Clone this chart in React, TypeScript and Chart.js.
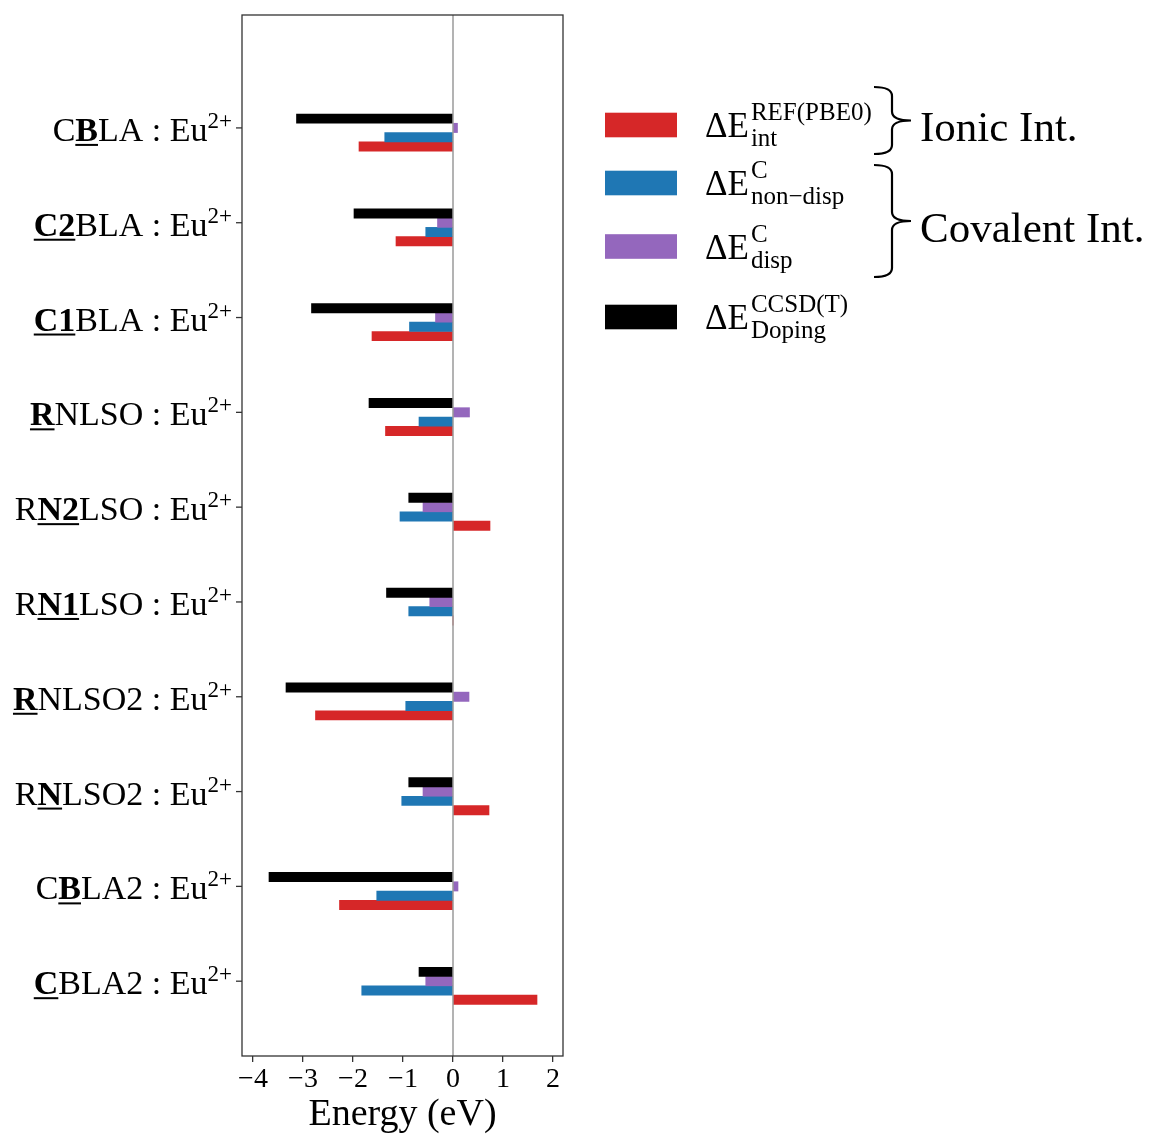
import React, { useEffect, useRef } from "react";
import { Chart, registerables } from "chart.js";

Chart.register(...registerables);

// Host lattices; the doped cation site is wrapped in *...* (drawn bold + underlined)
const hosts = [
  "C*B*LA",
  "*C2*BLA",
  "*C1*BLA",
  "*R*NLSO",
  "R*N2*LSO",
  "R*N1*LSO",
  "*R*NLSO2",
  "R*N*LSO2",
  "C*B*LA2",
  "*C*BLA2",
];
const dopant = "Eu";
const dopantCharge = "2+";

// Energies in eV, one value per host
const dopingCCSDT = [-3.13, -1.98, -2.83, -1.68, -0.885, -1.33, -3.34, -0.885, -3.68, -0.68];
const dispersion = [0.09, -0.31, -0.35, 0.33, -0.6, -0.465, 0.32, -0.6, 0.1, -0.545];
const nonDispersion = [-1.365, -0.545, -0.87, -0.68, -1.06, -0.885, -0.945, -1.025, -1.525, -1.825];
const interactionPBE0 = [-1.88, -1.14, -1.62, -1.35, 0.74, 0, -2.75, 0.72, -2.27, 1.68];

const xTicks = [-4, -3, -2, -1, 0, 1, 2];
const xTitle = "Energy (eV)";

// Legend: ΔE with superscript / subscript
const legendSup = ["REF(PBE0)", "C", "C", "CCSD(T)"];
const legendSub = ["int", "non\u2212disp", "disp", "Doping"];
const groupNames = ["Ionic Int.", "Covalent Int."];

const RED = "#d62728";
const BLUE = "#1f77b4";
const PURPLE = "#9467bd";
const BLACK = "#000000";
const SERIF = '"Liberation Serif", "Times New Roman", serif';

type Run = { text: string; font: string; dy: number; underline?: boolean };

function parseHost(label: string): Run[] {
  const runs: Run[] = [];
  label.split("*").forEach((part, k) => {
    if (!part) return;
    const bold = k % 2 === 1;
    runs.push({ text: part, font: `${bold ? "bold " : ""}34px ${SERIF}`, dy: 0, underline: bold });
  });
  runs.push({ text: " : " + dopant, font: `34px ${SERIF}`, dy: 0 });
  runs.push({ text: dopantCharge, font: `23px ${SERIF}`, dy: -13 });
  return runs;
}

function drawRunsRight(ctx: CanvasRenderingContext2D, runs: Run[], xRight: number, baseline: number) {
  let total = 0;
  const widths = runs.map((r) => {
    ctx.font = r.font;
    const w = ctx.measureText(r.text).width;
    total += w;
    return w;
  });
  let x = xRight - total;
  ctx.textAlign = "left";
  ctx.textBaseline = "alphabetic";
  runs.forEach((r, i) => {
    ctx.font = r.font;
    ctx.fillText(r.text, x, baseline + r.dy);
    if (r.underline) {
      ctx.fillRect(x, baseline + 3, widths[i], 2);
    }
    x += widths[i];
  });
}

function drawBrace(ctx: CanvasRenderingContext2D, y0: number, y1: number) {
  const xL = 874;
  const xM = 892;
  const xT = 911;
  const yT = (y0 + y1) / 2;
  const r = 9;
  ctx.beginPath();
  ctx.moveTo(xL, y0);
  ctx.quadraticCurveTo(xM, y0, xM, y0 + r);
  ctx.lineTo(xM, yT - r);
  ctx.quadraticCurveTo(xM, yT, xT, yT);
  ctx.quadraticCurveTo(xM, yT, xM, yT + r);
  ctx.lineTo(xM, y1 - r);
  ctx.quadraticCurveTo(xM, y1, xL, y1);
  ctx.lineWidth = 2.2;
  ctx.strokeStyle = "#000";
  ctx.stroke();
}

const decorations = {
  id: "decorations",
  afterDatasetsDraw(chart: any) {
    const { ctx, chartArea, scales } = chart;
    const x0 = scales.x.getPixelForValue(0);
    ctx.save();
    ctx.strokeStyle = "#8a8a8a";
    ctx.lineWidth = 1.3;
    ctx.beginPath();
    ctx.moveTo(x0, chartArea.top);
    ctx.lineTo(x0, chartArea.bottom);
    ctx.stroke();
    ctx.restore();
  },
  afterDraw(chart: any) {
    const { ctx, chartArea } = chart;
    ctx.save();
    // axes frame
    ctx.strokeStyle = "#333";
    ctx.lineWidth = 1.3;
    ctx.strokeRect(chartArea.left, chartArea.top, chartArea.right - chartArea.left, chartArea.bottom - chartArea.top);

    // category ticks and labels, aligned with the middle bar of each group
    const meta = chart.getDatasetMeta(1);
    ctx.fillStyle = "#000";
    hosts.forEach((h, i) => {
      const el = meta.data[i];
      if (!el) return;
      const y = el.y;
      ctx.beginPath();
      ctx.moveTo(chartArea.left - 6, y);
      ctx.lineTo(chartArea.left, y);
      ctx.stroke();
      drawRunsRight(ctx, parseHost(h), chartArea.left - 10, y + 13);
    });

    // legend
    const order = [3, 2, 1, 0];
    const rowY = [125, 183, 246.5, 317];
    order.forEach((dsIndex, k) => {
      const ds = chart.data.datasets[dsIndex];
      const cy = rowY[k];
      ctx.fillStyle = ds.backgroundColor;
      ctx.fillRect(605, cy - 12.3, 72, 24.6);
      ctx.fillStyle = "#000";
      ctx.textAlign = "left";
      ctx.textBaseline = "alphabetic";
      ctx.font = `35px ${SERIF}`;
      const base = cy + 12;
      ctx.fillText("\u0394E", 705, base);
      const w = ctx.measureText("\u0394E").width;
      ctx.font = `25px ${SERIF}`;
      ctx.fillText(legendSup[k], 705 + w + 2, base - 17);
      ctx.fillText(legendSub[k], 705 + w + 2, base + 9);
    });

    // group braces
    drawBrace(ctx, 87, 154);
    drawBrace(ctx, 165, 277);
    ctx.fillStyle = "#000";
    ctx.font = `43px ${SERIF}`;
    ctx.textAlign = "left";
    ctx.fillText(groupNames[0], 920, 141);
    ctx.fillText(groupNames[1], 920, 242);
    ctx.restore();
  },
};

export default function App() {
  const ref = useRef<HTMLCanvasElement>(null);

  useEffect(() => {
    const series = [
      { label: "CCSD(T) doping", values: dopingCCSDT, color: BLACK },
      { label: "disp", values: dispersion, color: PURPLE },
      { label: "non-disp", values: nonDispersion, color: BLUE },
      { label: "REF(PBE0) int", values: interactionPBE0, color: RED },
    ];
    const chart = new Chart(ref.current as HTMLCanvasElement, {
      type: "bar",
      data: {
        datasets: series.map((s) => ({
          label: s.label,
          data: s.values.map((v, i) => ({ x: v, y: i })),
          backgroundColor: s.color,
          borderWidth: 0,
          barThickness: 9.3,
        })),
      },
      options: {
        indexAxis: "y",
        responsive: false,
        animation: false,
        devicePixelRatio: 1,
        layout: { padding: { left: 0, top: 15, right: 587, bottom: 0 } },
        plugins: { legend: { display: false }, tooltip: { enabled: false } },
        scales: {
          y: {
            type: "linear",
            reverse: true,
            offset: false,
            min: -1.24,
            max: 9.74,
            ticks: { display: false, stepSize: 1, includeBounds: false },
            grid: { display: false },
            border: { display: false },
            afterFit: (s: any) => {
              s.width = 242;
            },
          },
          x: {
            type: "linear",
            min: -4.22,
            max: 2.2,
            afterBuildTicks: (s: any) => {
              s.ticks = xTicks.map((v) => ({ value: v }));
            },
            ticks: {
              padding: 1,
              color: "#000",
              font: { family: SERIF, size: 28 },
              callback: (v: any) => (Number(v) < 0 ? "\u2212" + Math.abs(Number(v)) : String(v)),
            },
            grid: { drawOnChartArea: false, drawTicks: true, tickLength: 6, tickColor: "#333", lineWidth: 1.3 },
            border: { display: false },
            title: {
              display: true,
              text: xTitle,
              color: "#000",
              font: { family: SERIF, size: 38 },
              padding: { top: 0, bottom: -3 },
            },
            afterFit: (s: any) => {
              s.height = 79;
            },
          },
        },
      },
      plugins: [decorations],
    } as any);
    return () => chart.destroy();
  }, []);

  return (
    <div style={{ position: "absolute", left: 0, top: 0, width: 1150, height: 1135, background: "#fff" }}>
      <canvas ref={ref} width={1150} height={1135} style={{ display: "block" }} />
    </div>
  );
}
